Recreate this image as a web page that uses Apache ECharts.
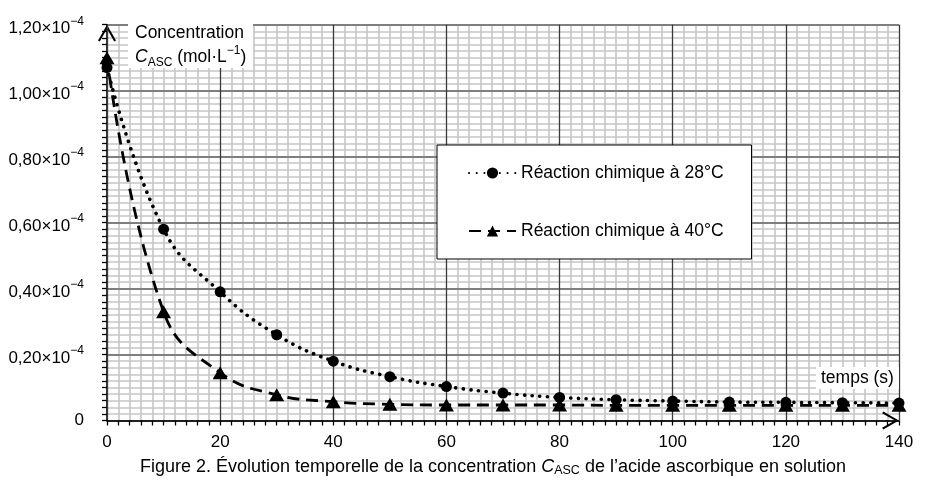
<!DOCTYPE html>
<html>
<head>
<meta charset="utf-8">
<script src="https://cdn.jsdelivr.net/npm/echarts@6/dist/echarts.min.js"></script>
<style>
html,body{margin:0;padding:0;background:#fff;}
#chart{width:925px;height:490px;}
</style>
</head>
<body>
<div id="chart"></div>
<script>
// Temps (s)
const times = [0, 10, 20, 30, 40, 50, 60, 70, 80, 90, 100, 110, 120, 130, 140];
// Concentration C_ASC in units of 10^-4 mol/L
const conc28 = [1.07, 0.58, 0.39, 0.26, 0.18, 0.133, 0.103, 0.083, 0.070, 0.063, 0.059, 0.056, 0.055, 0.054, 0.053];
const conc40 = [1.10, 0.33, 0.145, 0.078, 0.057, 0.049, 0.047, 0.047, 0.047, 0.046, 0.046, 0.046, 0.046, 0.046, 0.046];
const seriesNames = ['Réaction chimique à 28°C', 'Réaction chimique à 40°C'];
const yTickMantissa = ['0', '0,20', '0,40', '0,60', '0,80', '1,00', '1,20'];
const yTickExponent = '−4';
const xTickLabels = ['0', '20', '40', '60', '80', '100', '120', '140'];

const FONT = '"Liberation Sans", Arial, Helvetica, sans-serif';
const arrow = 'path://M9,0 L18,15.6 L16.2,16.8 L9,4 L1.8,16.8 L0,15.6 Z';

const chart = echarts.init(document.getElementById('chart'), null, {renderer: 'canvas'});

const option = {
  animation: false,
  backgroundColor: '#fff',
  textStyle: {fontFamily: FONT, color: '#000'},
  grid: {left: 107, right: 26, top: 24.7, bottom: 69.5, containLabel: false},
  legend: {
    orient: 'vertical',
    left: 437,
    top: 145,
    z: 10,
    backgroundColor: '#fff',
    borderColor: '#000',
    borderWidth: 1,
    padding: [19, 28, 19, 31],
    itemGap: 40,
    itemWidth: 47,
    itemHeight: 14,
    textStyle: {fontSize: 17.5, color: '#000', fontFamily: FONT},
    data: seriesNames
  },
  xAxis: [
    {
      type: 'value', min: 0, max: 140, interval: 20, z: 0, position: 'bottom',
      axisLine: {show: false}, axisTick: {show: false}, axisLabel: {show: false},
      splitLine: {show: false},
      minorTick: {show: false, splitNumber: 10},
      minorSplitLine: {show: true, lineStyle: {color: '#c6c6c6', width: 1.6}}
    },
    {
      type: 'value', min: 0, max: 140, interval: 20, z: 2, position: 'bottom', offset: 0,
      axisLine: {show: true, onZero: false, lineStyle: {color: '#000', width: 1.6},
        symbol: ['none', arrow], symbolSize: [18, 17], symbolOffset: [0, -8.5]},
      axisTick: {show: true, inside: false, length: 5, lineStyle: {color: '#000', width: 1.3}},
      minorTick: {show: true, splitNumber: 10, length: 5, lineStyle: {color: '#000', width: 1.3}},
      axisLabel: {show: true, margin: 13, fontSize: 17, color: '#000', fontFamily: FONT,
        formatter: function (v, i) { return xTickLabels[i]; }},
      splitLine: {show: true, lineStyle: {color: '#3a3a3a', width: 1.3}},
      minorSplitLine: {show: false}
    }
  ],
  yAxis: {
    type: 'value', min: 0, max: 1.2, interval: 0.2, z: 1,
    axisLine: {show: true, onZero: false, lineStyle: {color: '#000', width: 1.6},
      symbol: ['none', arrow], symbolSize: [18, 17], symbolOffset: [0, -8.5]},
    axisTick: {show: true, inside: false, length: 5, lineStyle: {color: '#000', width: 1.3}},
    minorTick: {show: true, splitNumber: 10, length: 5, lineStyle: {color: '#000', width: 1.3}},
    splitLine: {show: true, lineStyle: {color: '#7f7f7f', width: 2}},
    minorSplitLine: {show: true, lineStyle: {color: '#c6c6c6', width: 1.6}},
    axisLabel: {
      show: true, margin: 23, color: '#000', fontFamily: FONT, fontSize: 17,
      padding: [7, 0, 0, 0],
      formatter: function (v, i) {
        if (i === 0) return '{z|' + yTickMantissa[0] + '}';
        return '{a|' + yTickMantissa[i] + '×10}{s|' + yTickExponent + '}';
      },
      rich: {
        a: {fontSize: 17, lineHeight: 26, fontFamily: FONT, color: '#000'},
        s: {fontSize: 12, lineHeight: 12, verticalAlign: 'top', fontFamily: FONT, color: '#000'},
        z: {fontSize: 17, lineHeight: 19, padding: [0, 0, 7, 0], fontFamily: FONT, color: '#000'}
      }
    }
  },
  series: [
    {
      name: seriesNames[0], type: 'line', xAxisIndex: 1, z: 5,
      data: times.map((t, i) => [t, conc28[i]]),
      smooth: 0.45,
      symbol: 'circle', symbolSize: 11,
      itemStyle: {color: '#000'},
      lineStyle: {color: '#000', width: 3.6, type: [0.1, 7.6], cap: 'round'}
    },
    {
      name: seriesNames[1], type: 'line', xAxisIndex: 1, z: 6,
      data: times.map((t, i) => [t, conc40[i]]),
      smooth: 0.45,
      symbol: 'triangle', symbolSize: [15, 13],
      itemStyle: {color: '#000'},
      lineStyle: {color: '#000', width: 2.8, type: [12, 7]}
    }
  ],
  graphic: [
    {type: 'rect', z: 8, shape: {x: 128, y: 21, width: 125, height: 47}, style: {fill: '#fff'}},
    {type: 'text', z: 9, style: {x: 135, y: 33, text: 'Concentration', fontSize: 17.5, fontFamily: FONT, fill: '#000', verticalAlign: 'middle', textVerticalAlign: 'middle'}},
    {type: 'text', z: 9, style: {
      x: 135, y: 57, verticalAlign: 'middle', textVerticalAlign: 'middle', fill: '#000', fontFamily: FONT, fontSize: 17.5,
      text: '{i|C}{s|ASC}{n| (mol·L}{p|−1}{n|)}',
      rich: {
        i: {fontSize: 17.5, lineHeight: 24, fontStyle: 'italic', fontFamily: FONT, fill: '#000', color: '#000'},
        s: {fontSize: 12, lineHeight: 17, verticalAlign: 'bottom', fontFamily: FONT, fill: '#000', color: '#000'},
        n: {fontSize: 17.5, lineHeight: 24, fontFamily: FONT, fill: '#000', color: '#000'},
        p: {fontSize: 12, lineHeight: 12, verticalAlign: 'top', fontFamily: FONT, fill: '#000', color: '#000'}
      }
    }},
    {type: 'rect', z: 8, shape: {x: 816, y: 367, width: 83, height: 22}, style: {fill: '#fff'}},
    {type: 'text', z: 9, style: {x: 821, y: 378, text: 'temps (s)', fontSize: 17.5, fontFamily: FONT, fill: '#000', verticalAlign: 'middle', textVerticalAlign: 'middle'}},
    {type: 'text', z: 9, style: {
      x: 493, y: 467, align: 'center', textAlign: 'center', verticalAlign: 'middle', textVerticalAlign: 'middle',
      fill: '#000', fontFamily: FONT, fontSize: 18,
      text: '{n|Figure 2. Évolution temporelle de la concentration }{i|C}{sc|ASC}{n| de l’acide ascorbique en solution}',
      rich: {
        n: {fontSize: 18, lineHeight: 20, fontFamily: FONT, fill: '#000', color: '#000'},
        i: {fontSize: 18, lineHeight: 20, fontStyle: 'italic', fontFamily: FONT, fill: '#000', color: '#000'},
        sc: {fontSize: 12.5, lineHeight: 18, verticalAlign: 'bottom', fontFamily: FONT, fill: '#000', color: '#000'}
      }
    }}
  ]
};

chart.setOption(option);
</script>
</body>
</html>
